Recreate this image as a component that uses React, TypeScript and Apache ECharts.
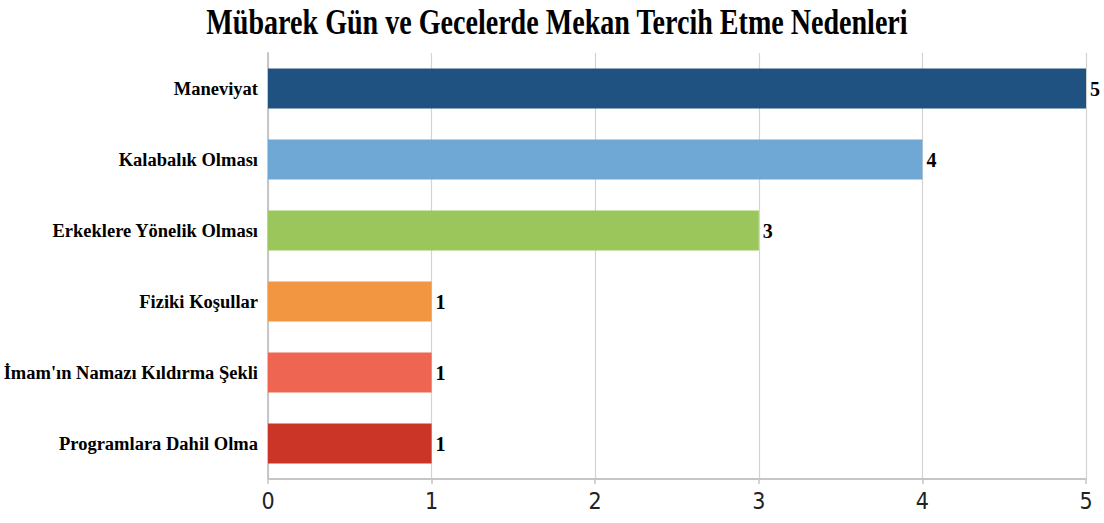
import React, { useEffect, useRef } from "react";
import * as echarts from "echarts";

const titleText = "Mübarek Gün ve Gecelerde Mekan Tercih Etme Nedenleri";
const categories = [
  "Maneviyat",
  "Kalabalık Olması",
  "Erkeklere Yönelik Olması",
  "Fiziki Koşullar",
  "İmam'ın Namazı Kıldırma Şekli",
  "Programlara Dahil Olma",
];
const values = [5, 4, 3, 1, 1, 1];
const barColors = ["#1F5280", "#6FA7D5", "#9BC65B", "#F39641", "#EE6651", "#CB3527"];
const xTicks = [0, 1, 2, 3, 4, 5];

export default function App() {
  const ref = useRef<HTMLDivElement>(null);
  useEffect(() => {
    document.body.style.margin = "0";
    const chart = echarts.init(ref.current!, null, { renderer: "svg" });
    chart.setOption({
      animation: false,
      backgroundColor: "#ffffff",
      graphic: [
        {
          type: "text",
          x: 557,
          y: 22,
          scaleX: 0.78,
          style: {
            text: titleText,
            font: "bold 36px 'Liberation Serif', 'Times New Roman', serif",
            fill: "#000",
            align: "center",
            verticalAlign: "middle",
          },
        },
      ],
      grid: { left: 268, right: 18, top: 53, bottom: 44 },
      xAxis: {
        type: "value",
        min: xTicks[0],
        max: xTicks[xTicks.length - 1],
        interval: 1,
        axisLine: { show: true, lineStyle: { color: "#C6C6C6", width: 2 } },
        axisTick: { show: true, length: 5, lineStyle: { color: "#C6C6C6", width: 1.5 } },
        splitLine: { show: true, lineStyle: { color: "#D3D3D3", width: 1.2 } },
        axisLabel: {
          color: "#222",
          fontFamily: "'Liberation Sans Narrow', 'DejaVu Sans Condensed', 'Liberation Sans', sans-serif",
          fontSize: 23,
          margin: 10,
        },
      },
      yAxis: {
        type: "category",
        inverse: true,
        data: categories,
        axisLine: { show: true, lineStyle: { color: "#C6C6C6", width: 2 } },
        axisTick: { show: false },
        axisLabel: {
          color: "#000",
          fontFamily: "'Liberation Serif', 'Times New Roman', serif",
          fontWeight: "bold",
          fontSize: 18.5,
          margin: 10,
        },
      },
      series: [
        {
          type: "bar",
          data: values.map((v, i) => ({ value: v, itemStyle: { color: barColors[i] } })),
          barCategoryGap: "44%",
          label: {
            show: true,
            position: "right",
            distance: 4,
            color: "#000",
            fontFamily: "'Liberation Serif', 'Times New Roman', serif",
            fontWeight: "bold",
            fontSize: 20,
          },
        },
      ],
    });
    return () => chart.dispose();
  }, []);
  return <div ref={ref} style={{ width: 1104, height: 523 }} />;
}
